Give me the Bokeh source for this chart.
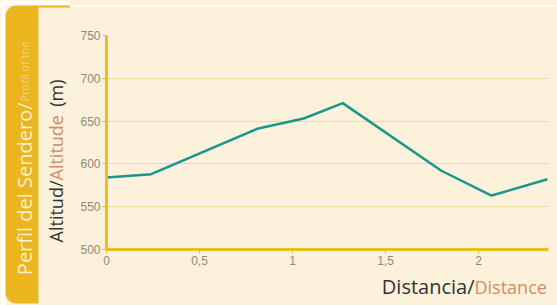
from bokeh.plotting import figure
from bokeh.layouts import row, column
from bokeh.models import Range1d, Label, BoxAnnotation, FixedTicker
from bokeh.embed import file_html
from bokeh.resources import INLINE

# ---- data ----
distance_km = [0, 0.24, 0.81, 1.06, 1.27, 1.80, 2.07, 2.37]
altitude_m = [584, 588, 641, 653, 671, 592, 563, 582]
x_ticks = [0, 0.5, 1, 1.5, 2]
x_tick_labels = ["0", "0,5", "1", "1,5", "2"]
y_ticks = [500, 550, 600, 650, 700, 750]

CREAM = "#fcf1db"
GOLD = "#ebb520"
AXIS = "#edbc22"
GRID = "#f2d89a"
TEAL = "#1b968d"
DARK = "#333333"
SALMON = "#d48b69"
TICK = "#8d8b7d"
FONT = "Open Sans"

W, H = 557, 305
LEFT_W = 70
TOP_H = 7
CHART_W = W - LEFT_W
CHART_H = 265
BOT_H = H - TOP_H - CHART_H


def deco(width, height, bg):
    f = figure(width=width, height=height, output_backend="svg", toolbar_location=None,
               x_range=Range1d(0, 1), y_range=Range1d(0, 1),
               x_axis_type=None, y_axis_type=None, min_border=0)
    f.frame_align = False
    f.outline_line_color = None
    f.background_fill_color = bg
    f.border_fill_color = bg
    f.xgrid.visible = False
    f.ygrid.visible = False
    return f


def box(f, l, r, b, t, color, radius=0):
    f.add_layout(BoxAnnotation(left=l, right=r, bottom=b, top=t,
                               left_units="screen", right_units="screen",
                               bottom_units="screen", top_units="screen",
                               fill_color=color, fill_alpha=1, line_color=None,
                               border_radius=radius, level="underlay"))


def lab(f, txt, x, y, color, size, angle=0, align="left"):
    f.add_layout(Label(x=x, y=y, x_units="screen", y_units="screen", text=txt,
                       text_color=color, text_font=FONT, text_font_size=size,
                       angle=angle, angle_units="deg", text_align=align,
                       text_baseline="alphabetic"))


# ---- left panel: gold strip + vertical titles (screen coords: y from bottom) ----
left = deco(LEFT_W, H, CREAM)
box(left, 0, 5, 0, H, "white")
box(left, 0, LEFT_W, H - 5, H, "white")
box(left, 38, LEFT_W + 2, H - 7, H - 5, GOLD)
box(left, 5, 38, 2, H - 5, GOLD, radius=(11, 0, 0, 11))
lab(left, "Perfil del Sendero/", 24, H - 102, "#fdf0d2", "20px", angle=90, align="right")
lab(left, "Profil of the", 24, H - 101, "#f6d27f", "11px", angle=90)
lab(left, "Altitud/", 55, H - 180, DARK, "18px", angle=90, align="right")
lab(left, "Altitude", 55, H - 180, SALMON, "18px", angle=90)
lab(left, "(m)", 55, H - 79, DARK, "18px", angle=90, align="right")

# ---- top gold rule ----
top = deco(CHART_W, TOP_H, "white")
box(top, -2, CHART_W, 0, 2, GOLD)

# ---- chart ----
p = figure(width=CHART_W, height=CHART_H, output_backend="svg", toolbar_location=None,
           x_range=Range1d(0, 2.376), y_range=Range1d(500, 750),
           frame_width=442, frame_height=214,
           min_border_left=36, min_border_right=9, min_border_top=28,
           min_border_bottom=CHART_H - 28 - 214)
p.frame_align = False
p.background_fill_color = CREAM
p.border_fill_color = CREAM
p.outline_line_color = None

p.xaxis.ticker = FixedTicker(ticks=x_ticks)
p.xaxis.major_label_overrides = {t: l for t, l in zip(x_ticks, x_tick_labels)}
p.yaxis.ticker = FixedTicker(ticks=y_ticks)
for ax in (p.xaxis, p.yaxis):
    ax.axis_line_color = AXIS
    ax.axis_line_width = 3
    ax.major_tick_line_color = AXIS
    ax.major_tick_line_width = 1
    ax.major_tick_out = 4
    ax.major_tick_in = 0
    ax.minor_tick_line_color = None
    ax.major_label_text_color = TICK
    ax.major_label_text_font = "Liberation Sans Narrow, Liberation Sans"
    ax.major_label_text_font_size = "12px"
    ax.major_label_standoff = 2
p.xgrid.grid_line_color = None
p.ygrid.grid_line_color = GRID
p.ygrid.grid_line_width = 1

p.line(distance_km, altitude_m, line_color=TEAL, line_width=2.5)

# ---- bottom: x-axis title ----
bottom = deco(CHART_W, BOT_H, CREAM)
lab(bottom, "Distancia/", 474 - LEFT_W, 19, DARK, "20px", align="right")
lab(bottom, "Distance", 474 - LEFT_W, 19, SALMON, "18px")

right_col = column(top, p, bottom, spacing=0, styles={"background-color": CREAM})
layout = row(left, right_col, spacing=0, styles={"background-color": CREAM})
open("out.html", "w").write(file_html(layout, INLINE))
